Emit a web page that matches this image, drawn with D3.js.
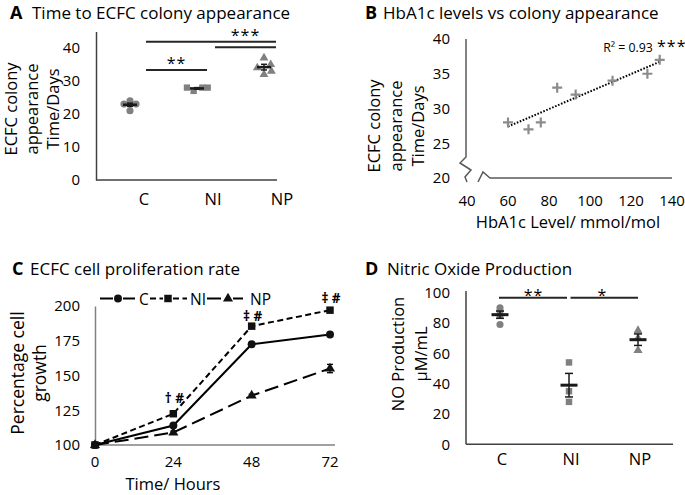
<!DOCTYPE html>
<html><head><meta charset="utf-8">
<script src="https://cdn.jsdelivr.net/npm/d3@7"></script>
<style>
body{margin:0;background:#fff;}
svg{font-family:"Open Sans",sans-serif;}
</style></head><body>
<svg id="c" width="685" height="495"></svg>
<script>
// ---------- Panel A data ----------
const groupsA = ["C","NI","NP"];
const valuesA_C = [24,23,23,23,21];
const valuesA_NI = [28,28,28,27];
const valuesA_NP = [37,34,35,33,32];
const jitterA_C = [0,-0.09,0,0.09,0];
const jitterA_NI = [-0.15,0.08,0.16,-0.05];
const jitterA_NP = [0,-0.1,0.1,0.11,0];
const ticksA = [0,10,20,30,40];
const sigA_pairs = [["C","NP",41.9],["NI","NP",40.2],["C","NI",33.3]];
const sigA_labels = [["***","NI","NP",42.0],["**","C","NI",33.5]];

// ---------- Panel B data ----------
const hba1c = [60,70,76,84,93,111,128,134];
const colonyDays = [28,27,28,33,32,34,35,37];
const ticksBx = [40,60,80,100,120,140];
const ticksBy = [20,25,30,35,40];
const r2Text = "R\u00B2 = 0.93";

// ---------- Panel C data ----------
const hours = [0,24,48,72];
const growthC = [100,114,172.5,179.5];
const growthNI = [100,122.5,185.5,197];
const growthNP = [100,109,135.5,155];
const errC = [0,1,1,1];
const errNI = [0,1,1,1];
const errNP = [0,1,1,3];
const annotHours = [24,48,72];
const annotText = ["\u2020 #","\u2021 #","\u2021 #"];
const ticksCx = [0,24,48,72];
const ticksCy = [100,125,150,175,200];

// ---------- Panel D data ----------
const groupsD = ["C","NI","NP"];
const noC = [90,88,85,79];
const noNI = [54,35,28];
const noNP = [75,70,62];
const ticksD = [0,20,40,60,80,100];
const sigD_pairs = [["C","NI",96.6,"**"],["NI","NP",96.6,"*"]];

// ---------- helpers ----------
const svg = d3.select("#c");
const FONT = "'Open Sans', sans-serif";
const AX = "#404040";
const MK = "#808080";
const sem = a => d3.deviation(a)/Math.sqrt(a.length);

function title(xL, xT, y, letter, text){
  svg.append("text").attr("x",xL).attr("y",y).attr("font-size",18).attr("font-weight","bold").text(letter);
  svg.append("text").attr("x",xT).attr("y",y).attr("font-size",17).text(text);
}
function vLabel(lines, xs, cy, size){
  lines.forEach((s,i)=> svg.append("text")
    .attr("transform",`translate(${xs[i]},${cy}) rotate(-90)`)
    .attr("text-anchor","middle").attr("dominant-baseline","central")
    .attr("font-size",size).text(s));
}
function yAxis(scale, ticks, x, pad, color, size){
  const g = svg.append("g").attr("transform",`translate(${x},0)`)
    .call(d3.axisLeft(scale).tickValues(ticks).tickSize(0).tickSizeOuter(0).tickPadding(pad));
  g.attr("font-family",FONT).attr("font-size",size);
  g.select(".domain").attr("stroke",color).attr("stroke-width",1.5);
  g.selectAll("text").attr("fill","#000");
  return g;
}
function hLine(x1,x2,y,color,w){
  svg.append("line").attr("x1",x1).attr("x2",x2).attr("y1",y).attr("y2",y)
    .attr("stroke",color).attr("stroke-width",w);
}
function stars(text,x,y,size){
  svg.append("text").attr("x",x).attr("y",y).attr("text-anchor","middle")
    .attr("font-size",size).attr("letter-spacing",1).text(text);
}
function meanErr(x,m,s,scale,w,sw,cap){
  svg.append("line").attr("x1",x).attr("x2",x).attr("y1",scale(m-s)).attr("y2",scale(m+s))
    .attr("stroke","#1a1a1a").attr("stroke-width",1.5);
  [m-s,m+s].forEach(v=>hLine(x-cap/2,x+cap/2,scale(v),"#1a1a1a",1.5));
  hLine(x-w/2,x+w/2,scale(m),"#1a1a1a",sw);
}

// ================= Panel A =================
title(10,32,19,"A","Time to ECFC colony appearance");
const yA = d3.scaleLinear().domain([0,45]).range([180,31.5]);
const xAlab = d3.scalePoint().domain(groupsA).range([144,282]);
const xAmk = d3.scalePoint().domain(groupsA).range([130,264]);
const jitA = d3.scaleLinear().domain([0,1]).range([0,67]);
yAxis(yA,ticksA,96,16,AX,15);
hLine(96,277,yA(0),AX,1.5);
svg.append("g").selectAll("text").data(groupsA).join("text")
  .attr("x",d=>xAlab(d)).attr("y",205).attr("text-anchor","middle")
  .attr("font-size",16.5).text(d=>d);
vLabel(["ECFC colony","appearance","Time/Days"],[10,31,52],109,16.5);

const setsA = [
  {g:"C",v:valuesA_C,j:jitterA_C,sym:d3.symbolCircle,size:40},
  {g:"NI",v:valuesA_NI,j:jitterA_NI,sym:d3.symbolSquare,size:40},
  {g:"NP",v:valuesA_NP,j:jitterA_NP,sym:d3.symbolTriangle,size:34}
];
setsA.forEach(s=>{
  svg.append("g").selectAll("path").data(s.v).join("path")
    .attr("d",d3.symbol(s.sym,s.size))
    .attr("transform",(d,i)=>`translate(${xAmk(s.g)+jitA(s.j[i])},${yA(d)})`)
    .attr("fill",MK);
  meanErr(xAmk(s.g),d3.mean(s.v),sem(s.v),yA,14,2.5,6);
});
sigA_pairs.forEach(([a,b,v])=>hLine(xAlab(a)+2,xAlab(b)-6,yA(v),"#262626",2));
sigA_labels.forEach(([t,a,b,v])=>stars(t,(xAlab(a)+xAlab(b))/2-2,yA(v),16));

// ================= Panel B =================
title(365,383,19,"B","HbA1c levels vs colony appearance");
const xB = d3.scaleLinear().domain([40,140]).range([467,672]);
const yB = d3.scaleLinear().domain([20,40]).range([178,39]);
const gBy = yAxis(yB,ticksBy,466,16,AX,15);
gBy.select(".domain").remove();
svg.append("path").attr("d","M466,39V157L460,163L471,170L465,177L467,182")
  .attr("fill","none").attr("stroke","#595959").attr("stroke-width",1.5);
svg.append("path").attr("d",`M478,182L483,172L490,${yB(20)}H${xB(140)}`)
  .attr("fill","none").attr("stroke","#595959").attr("stroke-width",1.5);
svg.append("g").selectAll("text").data(ticksBx).join("text")
  .attr("x",d=>xB(d)).attr("y",205.5).attr("text-anchor","middle")
  .attr("font-size",15).text(d=>d);
vLabel(["ECFC colony","appearance","Time/Days"],[373,395,417],126,16.5);
svg.append("text").attr("x",568).attr("y",228).attr("text-anchor","middle")
  .attr("font-size",16.5).text("HbA1c Level/ mmol/mol");
// regression line (least squares from data)
const mx = d3.mean(hba1c), my = d3.mean(colonyDays);
const slope = d3.sum(hba1c,(x,i)=>(x-mx)*(colonyDays[i]-my))/d3.sum(hba1c,x=>(x-mx)**2);
const icpt = my - slope*mx;
const xr = d3.extent(hba1c);
svg.append("line").attr("x1",xB(xr[0])).attr("x2",xB(xr[1]))
  .attr("y1",yB(icpt+slope*xr[0])).attr("y2",yB(icpt+slope*xr[1]))
  .attr("stroke","#000").attr("stroke-width",2).attr("stroke-dasharray","1.6,1.6");
svg.append("g").selectAll("path").data(hba1c).join("path")
  .attr("d","M-5,0H5M0,-5V5")
  .attr("transform",(d,i)=>`translate(${xB(d)},${yB(colonyDays[i])})`)
  .attr("stroke","#8c8c8c").attr("stroke-width",2.2).attr("fill","none");
svg.append("text").attr("x",628).attr("y",52).attr("text-anchor","middle").attr("font-size",12.3).text(r2Text);
svg.append("text").attr("x",657).attr("y",52).attr("font-size",16).attr("letter-spacing",1).text("***");

// ================= Panel C =================
title(12,30,275,"C","ECFC cell proliferation rate");
const xC = d3.scaleLinear().domain([0,72]).range([95,330]);
const yC = d3.scaleLinear().domain([100,200]).range([445,306]);
yAxis(yC,ticksCy,95,15,"#808080",15);
hLine(95,335,yC(100),"#808080",1.5);
svg.append("g").selectAll("text").data(ticksCx).join("text")
  .attr("x",d=>xC(d)).attr("y",466.5).attr("text-anchor","middle")
  .attr("font-size",15).text(d=>d);
vLabel(["Percentage cell","growth"],[17,39],373,17.5);
svg.append("text").attr("x",173).attr("y",489.5).attr("text-anchor","middle")
  .attr("font-size",16.5).text("Time/ Hours");

const seriesC = [
  {name:"C",v:growthC,e:errC,dash:null,sym:d3.symbolCircle,size:50},
  {name:"NI",v:growthNI,e:errNI,dash:"6,3.5",sym:d3.symbolSquare,size:56},
  {name:"NP",v:growthNP,e:errNP,dash:"14,6",sym:d3.symbolTriangle,size:44}
];
const lineC = d3.line().x((d,i)=>xC(hours[i])).y(d=>yC(d));
seriesC.forEach(s=>{
  svg.append("path").attr("d",lineC(s.v)).attr("fill","none").attr("stroke","#000")
    .attr("stroke-width",2).attr("stroke-dasharray",s.dash);
  s.v.forEach((d,i)=>{ if(s.e[i]>0){
    svg.append("line").attr("x1",xC(hours[i])).attr("x2",xC(hours[i]))
      .attr("y1",yC(d-s.e[i])).attr("y2",yC(d+s.e[i])).attr("stroke","#000").attr("stroke-width",1.3);
    [d-s.e[i],d+s.e[i]].forEach(v=>hLine(xC(hours[i])-3,xC(hours[i])+3,yC(v),"#000",1.3));
  }});
  svg.append("g").selectAll("path").data(s.v).join("path")
    .attr("d",d3.symbol(s.sym,s.size))
    .attr("transform",(d,i)=>`translate(${xC(hours[i])},${yC(d)})`).attr("fill","#111");
});
// annotations above NI
const annotDy = [16,10,12];
annotHours.forEach((h,i)=>{
  const k = hours.indexOf(h);
  svg.append("text").attr("x",xC(h)+1).attr("y",yC(growthNI[k])-annotDy[i])
    .attr("text-anchor","middle").attr("dominant-baseline","central")
    .attr("font-size",13.5).attr("font-weight","bold").text(annotText[i]);
});
// legend
const legX = [[100,135,118,139],[150,187,168,190],[207,243,228,250]];
seriesC.forEach((s,i)=>{
  const [a,b,m,t] = legX[i], y = 298.5;
  [[a,m-5],[m+5,b]].forEach(([p,q])=>svg.append("line").attr("x1",p).attr("x2",q).attr("y1",y).attr("y2",y)
    .attr("stroke","#000").attr("stroke-width",2).attr("stroke-dasharray",s.dash));
  svg.append("path").attr("d",d3.symbol(s.sym,s.size)).attr("transform",`translate(${m},${y})`).attr("fill","#111");
  svg.append("text").attr("x",t).attr("y",y).attr("dominant-baseline","central").attr("font-size",15.5).text(s.name);
});

// ================= Panel D =================
title(365,387,275,"D","Nitric Oxide Production");
const yD = d3.scaleLinear().domain([0,100]).range([444.3,292.7]);
const xD = d3.scalePoint().domain(groupsD).range([502,640]);
const gD = yAxis(yD,ticksD,466,16,AX,15);
gD.select(".domain").attr("d",`M0,${yD(0)}V291`);
hLine(466,673,yD(0),AX,1.5);
svg.append("g").selectAll("text").data(groupsD).join("text")
  .attr("x",d=>xD(d)).attr("y",465).attr("text-anchor","middle")
  .attr("font-size",16.5).text(d=>d);
vLabel(["NO Production","\u00B5M/mL"],[397,420],354,16.5);
const setsD = [
  {g:"C",v:noC,sym:d3.symbolCircle,size:40},
  {g:"NI",v:noNI,sym:d3.symbolSquare,size:42},
  {g:"NP",v:noNP,sym:d3.symbolTriangle,size:36}
];
setsD.forEach(s=>{
  svg.append("g").selectAll("path").data(s.v).join("path")
    .attr("d",d3.symbol(s.sym,s.size))
    .attr("transform",d=>`translate(${xD(s.g)-2},${yD(d)})`).attr("fill",MK);
  meanErr(xD(s.g)-2,d3.mean(s.v),sem(s.v),yD,17,3,8);
});
sigD_pairs.forEach(([a,b,v,t],i)=>{
  hLine(xD(a)+(i?-0.5:-3),xD(b)-(i?2:4),yD(v),"#262626",2);
  stars(t,(xD(a)+xD(b))/2-3,yD(v)+3,16);
});
</script></body></html>
